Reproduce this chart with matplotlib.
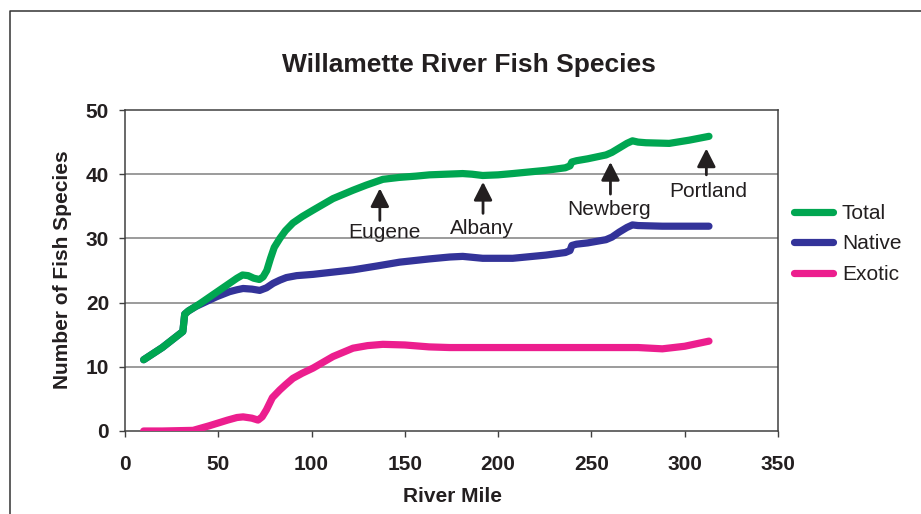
import matplotlib
matplotlib.use("Agg")
import matplotlib.pyplot as plt
from matplotlib.lines import Line2D

# ---- data ----
total_x = [10, 20, 31, 32, 34, 40, 49, 56, 60, 63, 66, 69, 72, 74, 76, 78, 80, 83, 86, 90, 95,
           100.8, 111.5, 122.2, 129.3, 138.2, 147, 156, 163.2, 172, 181, 186, 191.7, 200, 207.8,
           225.6, 236, 238.5, 239.5, 242, 248, 257.8, 261, 265, 269, 272, 275, 279.2, 291.7,
           302.4, 313]
total_y = [11.1, 13.0, 15.5, 18.2, 18.7, 19.8, 21.6, 23.0, 23.8, 24.3, 24.2, 23.8, 23.6, 24.0,
           25.0, 26.9, 28.6, 30.0, 31.2, 32.4, 33.4, 34.4, 36.2, 37.5, 38.3, 39.2, 39.5, 39.7,
           39.9, 40.0, 40.1, 40.0, 39.8, 39.9, 40.1, 40.6, 41.0, 41.3, 41.9, 42.1, 42.4, 43.0,
           43.4, 44.1, 44.8, 45.2, 45.0, 44.9, 44.8, 45.3, 45.9]

native_x = [10, 20, 31, 32, 34, 38, 49, 56, 60, 63.3, 68, 72.2, 75.8, 79.4, 83, 86.5, 92, 100.8,
            122.2, 135, 147.2, 163, 174, 181, 191.7, 207.8, 225.6, 236, 238.5, 239.5, 242, 248,
            257.8, 261, 265, 269, 272, 275, 288, 313]
native_y = [11.1, 13.0, 15.5, 18.2, 18.7, 19.4, 20.9, 21.7, 22.0, 22.2, 22.1, 21.9, 22.3, 23.0,
            23.5, 23.9, 24.2, 24.4, 25.1, 25.7, 26.3, 26.8, 27.1, 27.2, 26.9, 26.9, 27.4, 27.8,
            28.1, 28.9, 29.1, 29.3, 29.8, 30.2, 31.0, 31.7, 32.1, 32.0, 31.9, 31.9]

exotic_x = [10, 20, 36.5, 45, 55, 60, 63.3, 68, 71.3, 73.5, 75.8, 79, 83, 86, 90, 95, 100.8,
            111.5, 122.2, 130, 138.2, 150, 163, 174, 200, 230, 260, 275, 288, 300, 313]
exotic_y = [0, 0, 0.1, 0.8, 1.7, 2.1, 2.2, 2.0, 1.7, 2.2, 3.3, 5.2, 6.4, 7.2, 8.2, 9.0, 9.8,
            11.6, 12.9, 13.3, 13.5, 13.4, 13.1, 13.0, 13.0, 13.0, 13.0, 13.0, 12.8, 13.2, 14.0]

series_names = ["Total", "Native", "Exotic"]
x_ticks = [0, 50, 100, 150, 200, 250, 300, 350]
y_ticks = [0, 10, 20, 30, 40, 50]

cities = ["Eugene", "Albany", "Newberg", "Portland"]
city_mile = [136.6, 191.9, 260.2, 311.6]

# ---- styling ----
FONT = "Liberation Sans"
TXT = "#231F20"
plt.rcParams["font.family"] = [FONT, "DejaVu Sans"]

W, H = 921, 514
fig = plt.figure(figsize=(W / 100, H / 100), dpi=100)

def fx(px):
    return px / W

def fy(py):
    return 1 - py / H

ax = fig.add_axes([fx(125), fy(431), fx(778) - fx(125), fy(110) - fy(431)])

colors = {"Total": "#00A651", "Native": "#333399", "Exotic": "#EC1E8E"}
lw = 5.2
common = dict(lw=lw, solid_capstyle="round", solid_joinstyle="round")
l_ex, = ax.plot(exotic_x, exotic_y, color=colors["Exotic"], zorder=3, **common)
l_na, = ax.plot(native_x, native_y, color=colors["Native"], zorder=4, **common)
l_to, = ax.plot(total_x, total_y, color=colors["Total"], zorder=5, **common)

ax.set_xlim(0, 350)
ax.set_ylim(0, 50)
ax.set_xticks(x_ticks)
ax.set_yticks(y_ticks)
ax.set_xticklabels([str(v) for v in x_ticks])
ax.set_yticklabels([str(v) for v in y_ticks])
for lab in ax.get_xticklabels() + ax.get_yticklabels():
    lab.set_fontweight("bold")
    lab.set_fontsize(15)
    lab.set_color(TXT)
ax.tick_params(axis="x", direction="out", length=4.5, width=1.0, color="#404040", pad=13)
ax.tick_params(axis="y", direction="out", length=4.5, width=1.0, color="#404040", pad=7)

for v in y_ticks[1:-1]:
    ax.axhline(v, color="#808080", lw=1.1, zorder=1)
for s in ax.spines.values():
    s.set_color("#404040")
    s.set_linewidth(1.1)

# annotations
arrow_tail = [32.8, 33.9, 36.9, 39.9]
arrow_tip = [37.8, 38.8, 41.9, 44.0]
text_x = [139.3, 191.4, 259.6, 312.7]
text_base = [30.06, 30.7, 33.6, 36.5]
for name, xm, t0, t1, tx, tb in zip(cities, city_mile, arrow_tail, arrow_tip, text_x, text_base):
    ax.annotate("", xy=(xm, t1), xytext=(xm, t0),
                arrowprops=dict(arrowstyle="-|>,head_length=0.55,head_width=0.28",
                                mutation_scale=20, lw=2.0, color=TXT,
                                shrinkA=0, shrinkB=0), zorder=6)
    ax.text(tx, tb, name, ha="center", va="baseline", fontsize=15, color=TXT, zorder=6)

# titles and labels
fig.text(fx(469), fy(65), "Willamette River Fish Species", ha="center", va="center",
         fontsize=19, fontweight="bold", color=TXT)
fig.text(fx(452), fy(497), "River Mile", ha="center", va="center",
         fontsize=15, fontweight="bold", color=TXT)
fig.text(fx(62), fy(270), "Number of Fish Species", ha="center", va="center",
         rotation=90, fontsize=15, fontweight="bold", color=TXT)

# legend
leg = fig.legend([l_to, l_na, l_ex], series_names, loc="upper left",
                 bbox_to_anchor=(fx(794), fy(204)), frameon=False, fontsize=15,
                 handlelength=1.85, handletextpad=0.45, labelspacing=0.55,
                 borderpad=0, borderaxespad=0)
for t in leg.get_texts():
    t.set_color(TXT)

# outer frame
fig.add_artist(Line2D([fx(9.5), fx(9.5), fx(930)], [fy(520), fy(10.5), fy(10.5)],
                      color="#333333", lw=1.1, transform=fig.transFigure))

fig.savefig("out.png", dpi=100)
